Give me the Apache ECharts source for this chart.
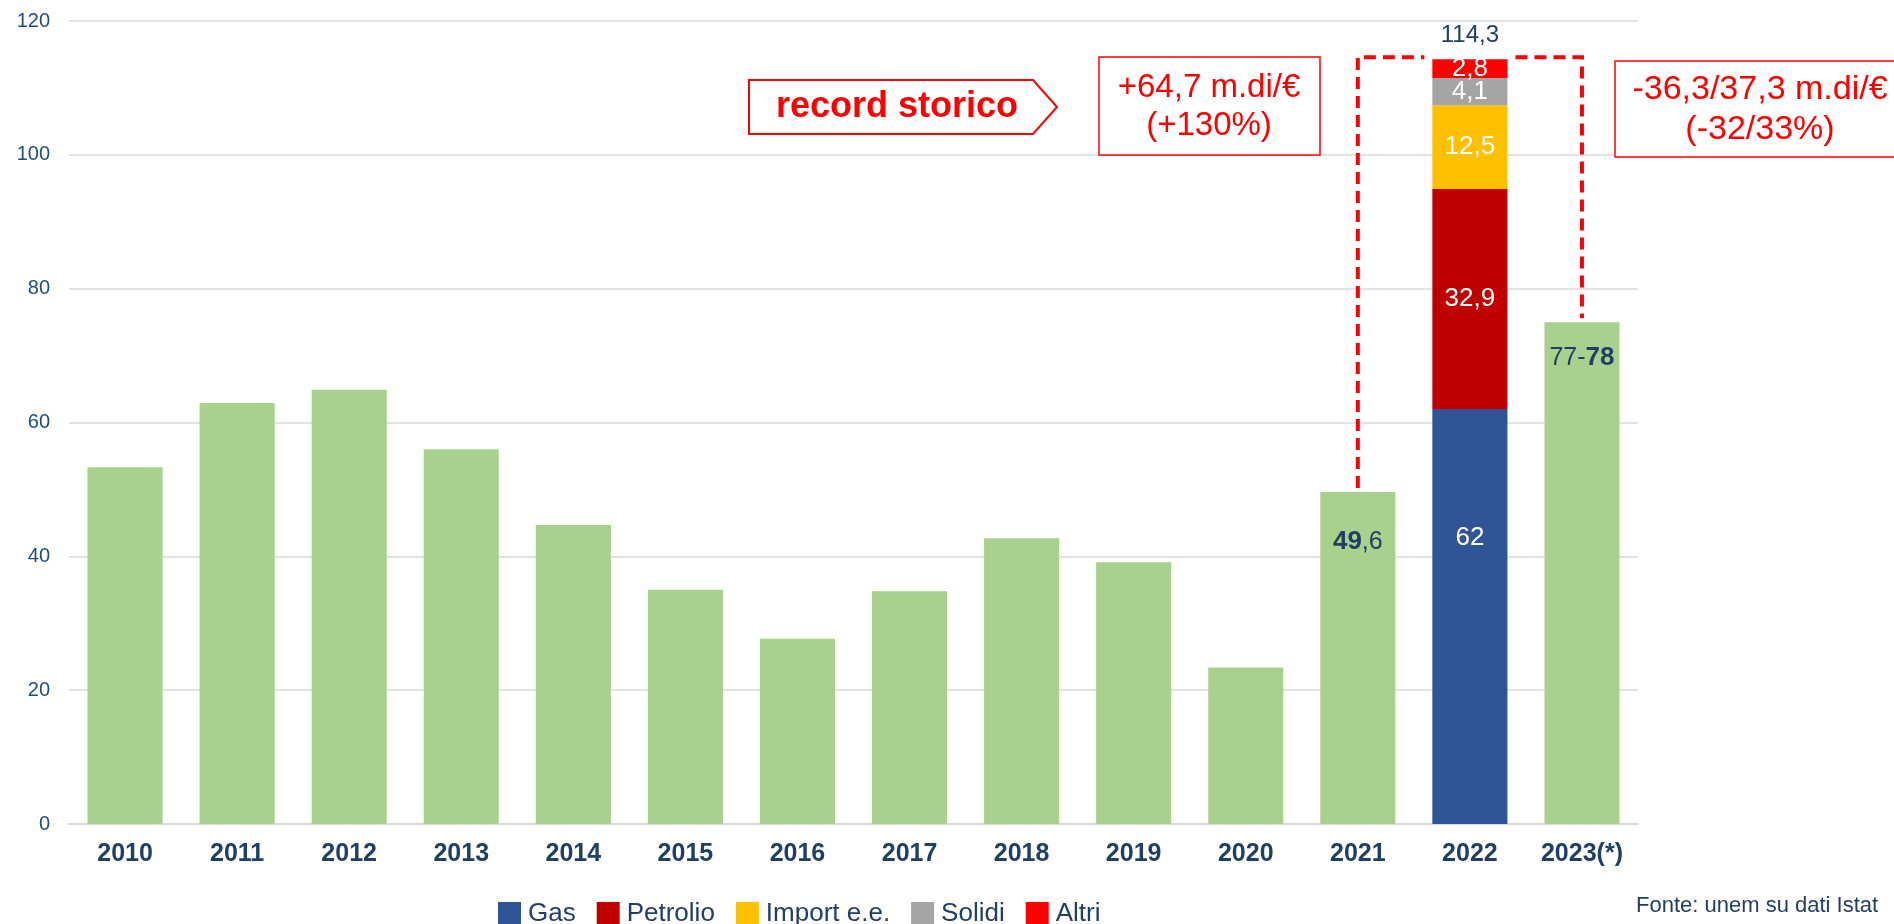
<!DOCTYPE html>
<html>
<head>
<meta charset="utf-8">
<script src="https://cdn.jsdelivr.net/npm/echarts@6/dist/echarts.min.js"></script>
<style>
  html, body { margin: 0; padding: 0; background: #fff; }
  #chart { width: 1894px; height: 924px; }
</style>
</head>
<body>
<div id="chart"></div>
<script>
// categorie e valori (m.di di euro)
const years = ['2010', '2011', '2012', '2013', '2014', '2015', '2016', '2017', '2018', '2019', '2020', '2021', '2022', '2023(*)'];
const fattura = [53.3, 62.9, 64.9, 56.0, 44.7, 35.0, 27.7, 34.8, 42.7, 39.1, 23.4, 49.6, null, 75.0];
const gas      = [null, null, null, null, null, null, null, null, null, null, null, null, 62, null];
const petrolio = [null, null, null, null, null, null, null, null, null, null, null, null, 32.9, null];
const importEE = [null, null, null, null, null, null, null, null, null, null, null, null, 12.5, null];
const solidi   = [null, null, null, null, null, null, null, null, null, null, null, null, 4.1, null];
const altri    = [null, null, null, null, null, null, null, null, null, null, null, null, 2.8, null];
const fatturaLabels = ['', '', '', '', '', '', '', '', '', '', '', '{b|49}{n|,6}', '', '{n|77-}{b|78}'];
const yTicks = [0, 20, 40, 60, 80, 100, 120];

const navy = '#1f3f66';
const ff = 'Liberation Sans, Arial, sans-serif';
const fmt = v => Number.isInteger(v) ? String(v) : v.toFixed(1).replace('.', ',');
const totals = years.map((y, i) => {
  const parts = [gas[i], petrolio[i], importEE[i], solidi[i], altri[i]];
  return parts.some(p => p != null) ? parts.reduce((s, p) => s + (p || 0), 0) : null;
});

const chart = echarts.init(document.getElementById('chart'));

function part(name, data, color) {
  return {
    name: name, type: 'bar', stack: 'tot', barWidth: '67%', data: data,
    itemStyle: { color: color },
    label: {
      show: true, position: 'inside', color: '#fff', fontSize: 26, fontFamily: ff,
      formatter: p => p.value == null ? '' : fmt(p.value)
    }
  };
}

const gasSeries = part('Gas', gas, '#2f5597');
gasSeries.label.position = ['50%', '31%'];
gasSeries.label.align = 'center';
gasSeries.label.verticalAlign = 'middle';

chart.setOption({
  animation: false,
  grid: { left: 69, right: 256, top: 21, bottom: 100 },
  xAxis: {
    type: 'category', data: years,
    axisTick: { show: false },
    axisLine: { lineStyle: { color: '#d9d9d9', width: 2 } },
    axisLabel: { color: navy, fontSize: 25, fontWeight: 'bold', margin: 18, fontFamily: ff }
  },
  yAxis: {
    type: 'value', min: 0, max: 120, interval: 20,
    axisLabel: { color: '#1f4e79', fontSize: 20, margin: 19, fontFamily: ff,
      formatter: v => yTicks.includes(v) ? String(v) : '' },
    splitLine: { lineStyle: { color: '#d9d9d9', width: 1.5 } }
  },
  legend: {
    data: ['Gas', 'Petrolio', 'Import e.e.', 'Solidi', 'Altri'],
    left: 493, top: 896, icon: 'rect', itemWidth: 23, itemHeight: 24, itemGap: 21,
    textStyle: { color: navy, fontSize: 26, fontFamily: ff, padding: [0, 0, 0, 2] }
  },
  series: [
    {
      name: 'Fattura', type: 'bar', stack: 'tot', barWidth: '67%',
      data: fattura.map((v, i) => i === 13 ? { value: v, label: { offset: [0, 36] } } : v),
      itemStyle: { color: '#a9d18e' },
      label: {
        show: true, position: ['50%', '0%'], align: 'center', verticalAlign: 'middle',
        offset: [0, 50], color: navy, fontSize: 25, fontFamily: ff,
        formatter: p => fatturaLabels[p.dataIndex],
        rich: {
          b: { fontSize: 26, fontWeight: 'bold', color: navy, fontFamily: ff },
          n: { fontSize: 25, color: navy, fontFamily: ff }
        }
      }
    },
    gasSeries,
    part('Petrolio', petrolio, '#c00000'),
    part('Import e.e.', importEE, '#ffc000'),
    part('Solidi', solidi, '#a5a5a5'),
    part('Altri', altri, '#ff0000'),
    {
      name: 'Totale', type: 'bar', stack: 'tot', barWidth: '67%',
      data: totals.map(t => t == null ? null : 0),
      itemStyle: { color: 'transparent' },
      label: {
        show: true, position: 'top', distance: 12, color: navy, fontSize: 24, fontFamily: ff,
        formatter: p => totals[p.dataIndex] == null ? '' : fmt(totals[p.dataIndex])
      }
    }
  ]
});

// staffa tratteggiata tra 2021, 2022 e 2023
const i21 = 11, i22 = 12, i23 = 13;
const bracketTop = totals[i22] + 0.3;
const pLeftBottom = chart.convertToPixel({ gridIndex: 0 }, [i21, fattura[i21]]);
const pLeftTop = chart.convertToPixel({ gridIndex: 0 }, [i21, bracketTop]);
const pRightBottom = chart.convertToPixel({ gridIndex: 0 }, [i23, fattura[i23]]);
const pRightTop = chart.convertToPixel({ gridIndex: 0 }, [i23, bracketTop]);
const pMid = chart.convertToPixel({ gridIndex: 0 }, [i22, bracketTop]);
const band = (pRightTop[0] - pLeftTop[0]) / 2;
const halfBar = band * 0.67 / 2 + 8;
const dashStyle = { stroke: '#ff0000', lineWidth: 4, lineDash: [12, 7], fill: null };

const red = '#ff0000';

chart.setOption({
  graphic: [
    { type: 'polyline', z: 10, shape: { points: [[pLeftBottom[0], pLeftBottom[1] - 4], pLeftTop, [pMid[0] - halfBar, pMid[1]]] }, style: dashStyle },
    { type: 'polyline', z: 10, shape: { points: [[pMid[0] + halfBar, pMid[1]], pRightTop, [pRightBottom[0], pRightBottom[1] - 4]] }, style: dashStyle },
    // record storico
    { type: 'polygon', z: 10, shape: { points: [[749, 80], [1033, 80], [1057, 107], [1033, 134], [749, 134]] },
      style: { fill: '#fff', stroke: red, lineWidth: 2 } },
    { type: 'text', z: 11, x: 897, y: 107, style: { text: 'record storico', fill: red, font: 'bold 36px ' + ff, align: 'center', verticalAlign: 'middle' } },
    // +64,7
    { type: 'rect', z: 10, shape: { x: 1099, y: 57, width: 221, height: 98 }, style: { fill: '#fff', stroke: red, lineWidth: 1.5 } },
    { type: 'text', z: 11, x: 1209, y: 107, style: { text: '+64,7 m.di/€\n(+130%)', fill: red, font: '33px ' + ff, align: 'center', verticalAlign: 'middle', lineHeight: 38 } },
    // -36,3/37,3
    { type: 'rect', z: 10, shape: { x: 1615, y: 61, width: 300, height: 96 }, style: { fill: '#fff', stroke: red, lineWidth: 1.5 } },
    { type: 'text', z: 11, x: 1760, y: 110, style: { text: '-36,3/37,3 m.di/€\n(-32/33%)', fill: red, font: '34px ' + ff, align: 'center', verticalAlign: 'middle', lineHeight: 40 } },
    // fonte
    { type: 'text', z: 11, x: 1636, y: 906, style: { text: 'Fonte: unem su dati Istat', fill: navy, font: '22px ' + ff, verticalAlign: 'middle' } }
  ]
});
</script>
</body>
</html>
